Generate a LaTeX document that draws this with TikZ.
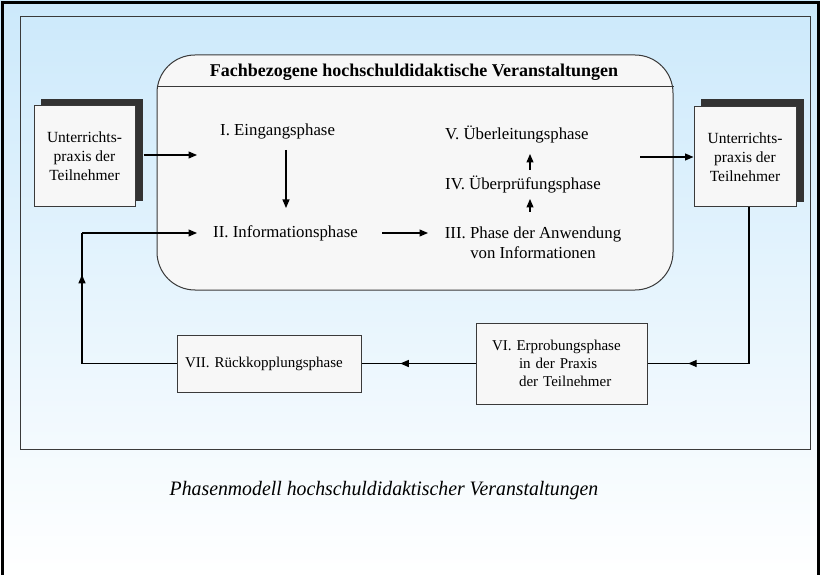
\documentclass[tikz,border=0pt]{standalone}
\usepackage{fontspec}
\setmainfont{Liberation Serif}
\usetikzlibrary{arrows.meta,decorations.markings}
\definecolor{bgtop}{HTML}{CCE9FB}
\definecolor{boxfill}{HTML}{F7F7F7}
\definecolor{shadowc}{HTML}{333333}
\definecolor{framec}{HTML}{3A3A3A}
\tikzset{
  conn/.style={draw=black, line width=1.1pt},
  arr/.style={conn, -{Triangle[length=8.5pt,width=7pt]}},
  midarr/.style={conn, postaction={decorate},
    decoration={markings, mark=at position #1 with {\arrow{Triangle[length=8.5pt,width=7pt]}}}},
  phase/.style={font=\fontsize{16.8}{20}\selectfont, inner sep=0pt},
  sbox/.style={draw=framec, line width=1pt, fill=boxfill, font=\fontsize{15.5}{19}\selectfont, align=center, inner sep=0pt},
  pbox/.style={draw=framec, line width=1pt, fill=boxfill, font=\fontsize{15}{18}\selectfont, align=left, inner ysep=0pt},
  panelbox/.style={draw=framec, line width=1pt, fill=boxfill, rounded corners=38pt, inner sep=0pt},
}
\begin{document}
\begin{tikzpicture}[x=1pt,y=-1pt]
\useasboundingbox (0,0) rectangle (820,575);
\shade[top color=bgtop, bottom color=white] (0,0) rectangle (820,575);
\draw[framec, line width=1pt] (20,17) rectangle (810,449);

% central panel
\node[panelbox, minimum width=516pt, minimum height=235pt] (panel) at (415,172.5) {};
\coordinate (hl) at (0,87);
\draw[framec, line width=1pt] (panel.west |- hl) -- (panel.east |- hl);
\node[font=\bfseries\fontsize{18}{21}\selectfont, inner sep=0pt] (title) at (414,72) {Fachbezogene hochschuldidaktische Veranstaltungen};

% side boxes with shadows
\fill[shadowc] (41,99) rectangle (143,201);
\node[sbox, minimum width=101pt, minimum height=101pt] (lb) at (84.5,156.5) {Unterrichts-\\praxis der\\Teilnehmer};
\fill[shadowc] (701,99) rectangle (804,202);
\node[sbox, minimum width=102pt, minimum height=100pt] (rb) at (745,157) {Unterrichts-\\praxis der\\Teilnehmer};

% phases
\node[phase, anchor=west] (ein) at (220,131) {I. Eingangsphase};
\node[phase, anchor=west] (info) at (213,233) {II. Informationsphase};
\node[phase, align=center] (anw) at (533,243) {III. Phase der Anwendung\\von Informationen};
\node[phase, anchor=west] (pruef) at (445,185) {IV. Überprüfungsphase};
\node[phase, anchor=west] (ueber) at (445,135) {V. Überleitungsphase};

\node[pbox, text width=139pt, inner xsep=16pt, minimum height=81pt] (vi) at (561.5,363.5)
  {VI. Erprobungsphase\\\hspace*{27pt}in der Praxis\\\hspace*{27pt}der Teilnehmer};
\node[pbox, text width=168pt, inner xsep=8pt, minimum height=57pt] (vii) at (269,363.5)
  {VII. Rückkopplungsphase};

% caption
\node[font=\itshape\fontsize{20.5}{24}\selectfont, inner sep=0pt] (cap) at (384,491)
  {\scalebox{0.965}[1]{Phasenmodell hochschuldidaktischer Veranstaltungen}};

% connectors
\coordinate (inI) at (197,155);
\draw[arr] (lb.east) ++(8,-1.5) -- (inI);
\coordinate (d1) at (286,150);
\coordinate (d2) at (286,208);
\draw[arr] (d1) -- (d2);
\coordinate (a3) at (428,233);
\draw[arr] (info.east) ++(24,0) -- (a3);
\coordinate (u1) at (530,212);
\coordinate (u2) at (530,199);
\draw[arr] (u1) -- (u2);
\coordinate (u3) at (530,170);
\coordinate (u4) at (530,154);
\draw[arr] (u3) -- (u4);
\coordinate (outR) at (640,157);
\draw[arr] (outR) -- (rb.west);
\coordinate (c1) at (749,363.5);
\draw[conn] (c1 |- rb.south) -- (c1);
\draw[midarr=0.6] (c1) -- (vi.east);
\draw[midarr=0.66] (vi.west) -- (vii.east);
\coordinate (fb) at (82,233);
\coordinate (inII) at (197,233);
\draw[conn] (vii.west) -- (vii.west -| fb);
\draw[midarr=0.68] (vii.west -| fb) -- (fb);
\draw[arr] (fb) -- (inII);

% outer frame
\draw[black, line width=2.5pt] (2.5,2.5) rectangle (818.5,600);
\end{tikzpicture}
\end{document}
